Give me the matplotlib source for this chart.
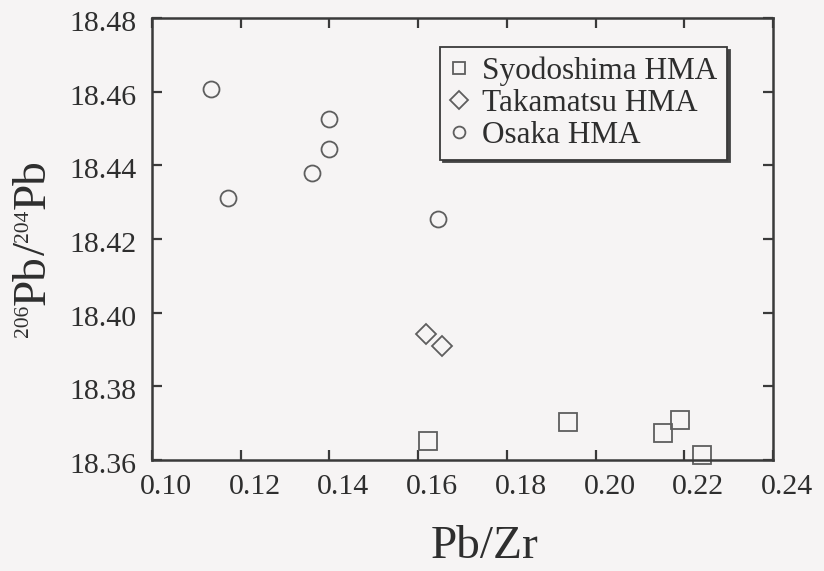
import numpy as np
import matplotlib
matplotlib.use("Agg")
from matplotlib import pyplot as plt
from matplotlib.transforms import ScaledTranslation


# Pb/Zr vs 206Pb/204Pb for the three HMA groups
syodoshima_x = [0.1623, 0.1937, 0.2152, 0.2190, 0.2241]
syodoshima_y = [18.3652, 18.3702, 18.3673, 18.3709, 18.3614]

takamatsu_x = [0.1618, 0.1654]
takamatsu_y = [18.3941, 18.3910]

osaka_x = [0.1133, 0.1172, 0.1360, 0.1400, 0.1398, 0.1644]
osaka_y = [18.4607, 18.4311, 18.4380, 18.4525, 18.4444, 18.4254]

x_ticks = [0.10, 0.12, 0.14, 0.16, 0.18, 0.20, 0.22, 0.24]
y_ticks = [18.36, 18.38, 18.40, 18.42, 18.44, 18.46, 18.48]

# y label pieces: (text, size in pt, superscript?)
ylabel_parts = [("206", 15.5, True), ("Pb", 34, False), ("/", 34, False),
                ("204", 15.5, True), ("Pb", 34, False)]

BG = "#f6f4f4"
INK = "#3a3a3a"
TXT = "#2e2e2e"
MARK = "#5e5e5e"
W, H = 824, 571

plt.rcParams["font.family"] = ["Liberation Serif", "DejaVu Serif"]

fig = plt.figure(figsize=(W / 100, H / 100), dpi=100, facecolor=BG)
ax = fig.add_axes([152 / W, 1 - 460 / H, 621 / W, 442 / H])
ax.set_facecolor(BG)

style = dict(linestyle="none", markerfacecolor="none", markeredgecolor=MARK,
             markeredgewidth=1.3, clip_on=False)
ax.plot(syodoshima_x, syodoshima_y, marker="s", markersize=12.5, **style)
ax.plot(takamatsu_x, takamatsu_y, marker="D", markersize=10.5, **style)
ax.plot(osaka_x, osaka_y, marker="o", markersize=11.5, **style)

ax.set_xlim(0.10, 0.24)
ax.set_ylim(18.36, 18.48)
ax.set_xticks(x_ticks)
ax.set_yticks(y_ticks)
ax.set_xticklabels([f"{v:.2f}" for v in x_ticks])
ax.set_yticklabels([f"{v:.2f}" for v in y_ticks])

for side in ax.spines.values():
    side.set_color(INK)
    side.set_linewidth(1.8)

ax.tick_params(direction="in", length=7, width=1.6, color=INK,
               top=True, right=True, labelsize=21.5, labelcolor=TXT)
ax.tick_params(axis="x", pad=10)
ax.tick_params(axis="y", pad=11)

# x tick labels sit to the right of their ticks, y labels a bit low
xshift = ScaledTranslation(14 / 100, 0, fig.dpi_scale_trans)
for lab in ax.get_xticklabels():
    lab.set_transform(lab.get_transform() + xshift)
yshift = ScaledTranslation(0, -3 / 100, fig.dpi_scale_trans)
for lab in ax.get_yticklabels():
    lab.set_transform(lab.get_transform() + yshift)

ax.set_xlabel("Pb/Zr", fontsize=34, color=TXT)
ax.xaxis.set_label_coords(0.535, -0.148)

# rotated y label built piece by piece so the mass numbers can be small
renderer = fig.canvas.get_renderer()
base_x = 45          # baseline, pixels from left
pos_y = 337          # start of text, pixels from top
cap = 0.66
for text, size, sup in ylabel_parts:
    px_size = size * 100 / 72
    bx = base_x
    if sup:
        bx = base_x - (34 * 100 / 72 - px_size) * cap
    t = fig.text(bx / W, 1 - pos_y / H, text, fontsize=size, color=TXT,
                 rotation=90, rotation_mode="anchor", ha="left", va="baseline")
    ext = t.get_window_extent(renderer)
    pos_y -= ext.height

# legend handles only
h1, = ax.plot([], [], marker="s", markersize=8.5, **style)
h2, = ax.plot([], [], marker="D", markersize=9.5, **style)
h3, = ax.plot([], [], marker="o", markersize=8.5, **style)
leg = ax.legend([h1, h2, h3], ["Syodoshima HMA", "Takamatsu HMA", "Osaka HMA"],
                loc="upper left", bbox_to_anchor=(288 / 621, 1 - 29 / 442),
                fontsize=22.5, frameon=True, fancybox=False, handlelength=0.6,
                handletextpad=0.45, labelspacing=0.1, borderpad=0.3,
                borderaxespad=0, labelcolor=TXT,
                shadow={"color": "#444444", "alpha": 1})
frame = leg.get_frame()
frame.set_edgecolor(INK)
frame.set_linewidth(1.3)
frame.set_facecolor(BG)

fig.savefig("out.png", dpi=100, facecolor=BG)
